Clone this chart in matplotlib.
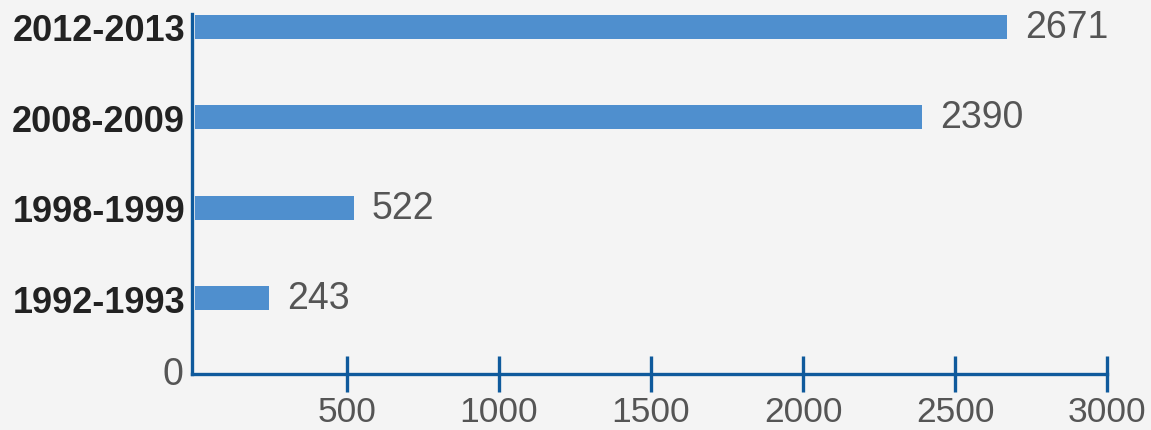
import matplotlib.pyplot as plt
import numpy as np

# データ
periods = ["1992-1993", "1998-1999", "2008-2009", "2012-2013"]
counts = [243, 522, 2390, 2671]
xticks = [500, 1000, 1500, 2000, 2500, 3000]

bg = "#f4f4f4"
bar_color = "#4f8fce"
axis_color = "#0f5a9c"
gray = "#555555"

plt.rcParams["font.family"] = ["Liberation Sans", "DejaVu Sans"]

fig = plt.figure(figsize=(11.51, 4.31), dpi=100, facecolor=bg)
ax = fig.add_axes([0.1668, 0.130, 0.795, 0.835], facecolor=bg)

y = np.arange(len(periods))
ax.barh(y, counts, height=0.265, color=bar_color, zorder=2)

# 値ラベル
for yi, v in zip(y, counts):
    ax.annotate(str(v), xy=(v, yi), xytext=(13, 0), textcoords="offset points",
                va="center", ha="left", fontsize=27, color=gray)

ax.set_xlim(-10, 3000)
ax.set_ylim(-0.84, 3.14)

ax.set_yticks(y)
ax.set_yticklabels(periods, fontsize=26, fontweight="bold", color="#222222")
ax.tick_params(axis="y", length=0, pad=5)

ax.set_xticks(xticks)
ax.set_xticklabels([str(t) for t in xticks], fontsize=25.5, color=gray)
ax.tick_params(axis="x", direction="inout", length=26, width=2.4,
               color=axis_color, pad=2)

for s in ["top", "right"]:
    ax.spines[s].set_visible(False)
for s in ["left", "bottom"]:
    ax.spines[s].set_color(axis_color)
    ax.spines[s].set_linewidth(2.4)

# 原点の 0
ax.annotate("0", xy=(0, 0), xycoords="axes fraction", xytext=(-6, 0),
            textcoords="offset points", ha="right", va="center",
            fontsize=27, color=gray)

fig.savefig("out.png", dpi=100, facecolor=bg)
